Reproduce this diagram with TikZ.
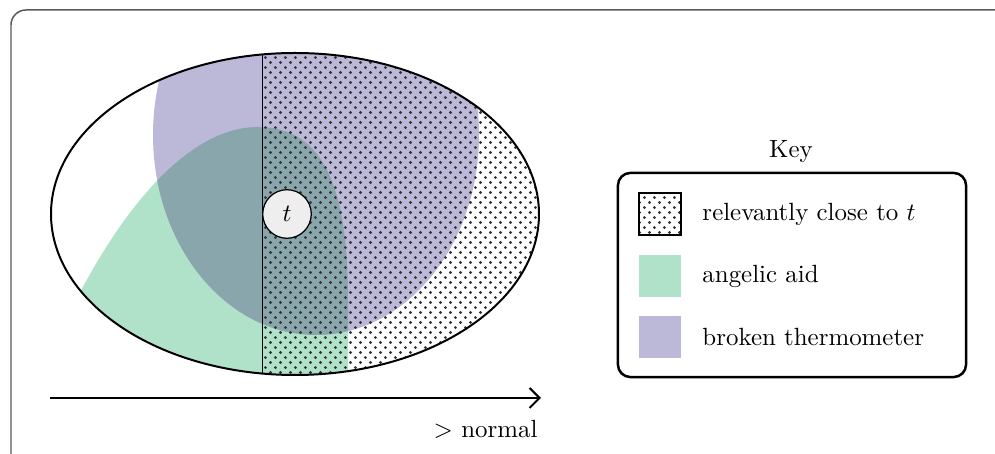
\documentclass[tikz,border=0pt]{standalone}
\usetikzlibrary{patterns,arrows.meta}

\definecolor{aidgreen}{RGB}{176,226,201}
\definecolor{brokenpurple}{RGB}{188,184,215}
\definecolor{bothtone}{RGB}{137,166,172}
\definecolor{tfill}{RGB}{238,238,238}

% staggered dot screen for the "relevantly close" worlds
\pgfdeclarepatternformonly{closedots}{\pgfpointorigin}{\pgfpoint{4pt}{4pt}}{\pgfpoint{4pt}{4pt}}{%
  \pgfpathcircle{\pgfpoint{1pt}{1pt}}{0.62pt}%
  \pgfpathcircle{\pgfpoint{3pt}{3pt}}{0.62pt}%
  \pgfusepath{fill}}

\tikzset{
  outerframe/.style={draw=black!65, line width=0.6pt, rounded corners=6pt},
  spaceoutline/.style={draw=black, line width=0.8pt},
  divider/.style={draw=black, line width=0.4pt},
  dotted region/.style={pattern=closedots, pattern color=black!80},
  tnode/.style={circle, draw=black, line width=0.5pt, fill=tfill,
                minimum size=19.5pt, inner sep=0pt},
  axisline/.style={draw=black, line width=0.8pt,
                   -{Straight Barb[length=4pt,width=8pt,line width=0.8pt]}},
  keyframe/.style={draw=black, line width=1pt, rounded corners=5pt,
                   minimum width=139.8pt, minimum height=82pt},
  swatch/.style={minimum size=16.9pt, inner sep=0pt},
  keytext/.style={anchor=west, inner sep=0pt},
}

% green region: the "angelic aid" worlds
\def\aidpath{(40,320) -- (76,300) .. controls (125,205) and (190,127) .. (258,127)
  .. controls (325,127) and (348,190) .. (348,300) -- (348,430) -- (40,430) -- cycle}
% purple region: the "broken thermometer" worlds
\def\brokenpath{(316,135) ellipse [x radius=163, y radius=200]}

\begin{document}
\begin{tikzpicture}[x=0.4016pt, y=-0.4016pt]
  \useasboundingbox (0,0) rectangle (995,454);

  % surrounding frame
  \draw[outerframe] (11,10) rectangle (1040,480);

  % logical space with its regions
  \begin{scope}
    \clip (295,214) ellipse [x radius=244, y radius=161];
    \fill[aidgreen] \aidpath;
    \fill[brokenpurple] \brokenpath;
    \begin{scope}
      \clip \aidpath;
      \fill[bothtone] \brokenpath;
    \end{scope}
    \fill[dotted region] (262,30) rectangle (560,400);
    \draw[divider] (262,30) -- (262,400);
  \end{scope}
  \draw[spaceoutline] (295,214) ellipse [x radius=244, y radius=161];

  \node[tnode] (t) at (287,214) {$t$};

  % normality axis
  \coordinate (axisL) at (50,398);
  \coordinate (axisR) at (541,398);
  \draw[axisline] (axisL) -- (axisR);
  \node[anchor=east, inner sep=0pt] (normal) at (538,429) {$>$ normal};

  % key
  \node (keytitle) at (791,152) {Key};
  \node[keyframe] (keybox) at (792,275) {};
  \node[swatch, draw=black, line width=0.5pt, dotted region] (swclose) at (660,214) {};
  \node[keytext] (lblclose) at (702,214) {relevantly close to $t$};
  \node[swatch, fill=aidgreen] (swaid) at (660,276) {};
  \node[keytext] (lblaid) at (702,276) {angelic aid};
  \node[swatch, fill=brokenpurple] (swbroken) at (660,337) {};
  \node[keytext] (lblbroken) at (702,337) {broken thermometer};
\end{tikzpicture}
\end{document}
